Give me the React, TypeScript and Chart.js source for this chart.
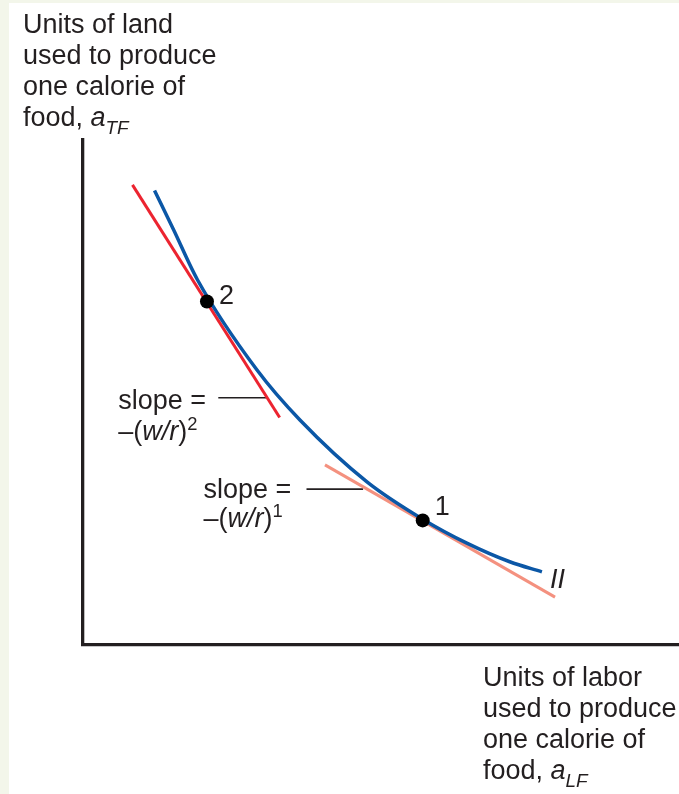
import React, { useEffect, useRef } from "react";
import { Chart, registerables } from "chart.js";

Chart.register(...registerables);

// Isoquant II (blue curve)
const curveX = [1.2, 1.52, 1.92, 2.92, 3.64, 4.77, 5.72, 6.44, 7.16, 7.7];
const curveY = [9.0, 8.22, 7.23, 5.44, 4.45, 3.22, 2.47, 2.01, 1.64, 1.44];

// Steep tangent (red) at point 2
const tangent2X = [0.83, 3.3];
const tangent2Y = [9.11, 4.5];

// Flatter tangent (salmon) at point 1
const tangent1X = [4.06, 7.92];
const tangent1Y = [3.56, 0.94];

// Labelled points 1 and 2
const pointLabels = ["1", "2"];
const pointX = [5.7, 2.08];
const pointY = [2.46, 6.8];

// Leader lines from the slope notes
const leader2X = [2.27, 3.08];
const leader2Y = [4.89, 4.89];
const leader1X = [3.75, 4.7];
const leader1Y = [3.08, 3.08];

const yTitle = ["Units of land", "used to produce", "one calorie of", "food, "];
const xTitle = ["Units of labor", "used to produce", "one calorie of", "food, "];

const FONT = "'Liberation Sans', Arial, Helvetica, sans-serif";
const INK = "#231f20";

type Seg = { t: string; italic?: boolean; scale?: number; dy?: number };

function drawRich(ctx: CanvasRenderingContext2D, x: number, y: number, segs: Seg[], size: number) {
  let cx = x;
  for (const s of segs) {
    const fs = size * (s.scale ?? 1);
    ctx.font = `${s.italic ? "italic " : ""}${fs}px ${FONT}`;
    ctx.fillText(s.t, cx, y + (s.dy ?? 0));
    cx += ctx.measureText(s.t).width;
  }
}

const bgPlugin = {
  id: "bg",
  beforeDraw(chart: any) {
    const ctx = chart.ctx as CanvasRenderingContext2D;
    ctx.save();
    ctx.fillStyle = "#f3f6ea";
    ctx.fillRect(0, 0, chart.width, chart.height);
    ctx.fillStyle = "#ffffff";
    ctx.fillRect(9, 3, chart.width - 9, chart.height - 3);
    ctx.restore();
  },
};

const textPlugin = {
  id: "texts",
  afterDraw(chart: any) {
    const ctx = chart.ctx as CanvasRenderingContext2D;
    const xs = chart.scales.x;
    const ys = chart.scales.y;
    const area = chart.chartArea;
    ctx.save();
    ctx.fillStyle = INK;
    ctx.textBaseline = "alphabetic";
    ctx.textAlign = "left";
    const size = 27;
    const lh = 31;

    // y axis title (above the axis)
    const yx = 23;
    const yb = area.top - 107;
    yTitle.forEach((line, i) => {
      const segs: Seg[] = [{ t: line }];
      if (i === yTitle.length - 1) {
        segs.push({ t: "a", italic: true });
        segs.push({ t: "TF", italic: true, scale: 0.7, dy: 8 });
      }
      drawRich(ctx, yx, yb + i * lh, segs, size);
    });

    // x axis title (below the axis, right side)
    const xx = 483;
    const xb = area.bottom + 41;
    xTitle.forEach((line, i) => {
      const segs: Seg[] = [{ t: line }];
      if (i === xTitle.length - 1) {
        segs.push({ t: "a", italic: true });
        segs.push({ t: "LF", italic: true, scale: 0.7, dy: 8 });
      }
      drawRich(ctx, xx, xb + i * lh, segs, size);
    });

    // point labels
    pointLabels.forEach((lab, i) => {
      const px = xs.getPixelForValue(pointX[i]);
      const py = ys.getPixelForValue(pointY[i]);
      drawRich(ctx, px + 12, py - 5 + (i === 1 ? 8 : 0), [{ t: lab }], size);
    });

    // curve label II
    const ex = xs.getPixelForValue(curveX[curveX.length - 1]);
    const ey = ys.getPixelForValue(curveY[curveY.length - 1]);
    drawRich(ctx, ex + 8, ey + 16, [{ t: "II", italic: true }], size);

    // slope notes
    const l2x = xs.getPixelForValue(leader2X[0]);
    const l2y = ys.getPixelForValue(leader2Y[0]);
    drawRich(ctx, l2x - 100, l2y + 11, [{ t: "slope =" }], size);
    drawRich(
      ctx,
      l2x - 100,
      l2y + 42,
      [{ t: "\u2013(" }, { t: "w/r", italic: true }, { t: ")" }, { t: "2", scale: 0.68, dy: -10 }],
      size
    );
    const l1x = xs.getPixelForValue(leader1X[0]);
    const l1y = ys.getPixelForValue(leader1Y[0]);
    drawRich(ctx, l1x - 103, l1y + 9, [{ t: "slope =" }], size);
    drawRich(
      ctx,
      l1x - 103,
      l1y + 38,
      [{ t: "\u2013(" }, { t: "w/r", italic: true }, { t: ")" }, { t: "1", scale: 0.68, dy: -10 }],
      size
    );
    ctx.restore();
  },
};

const toPts = (xs: number[], ys: number[]) => xs.map((x, i) => ({ x, y: ys[i] }));

export default function App() {
  const ref = useRef<HTMLCanvasElement | null>(null);
  useEffect(() => {
    if (!ref.current) return;
    document.body.style.margin = "0";
    const chart = new Chart(ref.current, {
      type: "scatter",
      data: {
        datasets: [
          {
            label: "points",
            data: toPts(pointX, pointY),
            showLine: false,
            pointRadius: 7,
            pointBackgroundColor: "#000000",
            pointBorderWidth: 0,
            order: 0,
          },
          {
            label: "II",
            data: toPts(curveX, curveY),
            showLine: true,
            borderColor: "#0b57a6",
            borderWidth: 3.5,
            pointRadius: 0,
            cubicInterpolationMode: "monotone",
            fill: false,
            order: 1,
          },
          {
            label: "tangent2",
            data: toPts(tangent2X, tangent2Y),
            showLine: true,
            borderColor: "#ec2430",
            borderWidth: 3,
            pointRadius: 0,
            order: 2,
          },
          {
            label: "tangent1",
            data: toPts(tangent1X, tangent1Y),
            showLine: true,
            borderColor: "#f4917f",
            borderWidth: 3,
            pointRadius: 0,
            order: 2,
          },
          {
            label: "leader2",
            data: toPts(leader2X, leader2Y),
            showLine: true,
            borderColor: INK,
            borderWidth: 1.6,
            pointRadius: 0,
            order: 3,
          },
          {
            label: "leader1",
            data: toPts(leader1X, leader1Y),
            showLine: true,
            borderColor: INK,
            borderWidth: 1.6,
            pointRadius: 0,
            order: 3,
          },
        ],
      },
      options: {
        responsive: false,
        devicePixelRatio: 1,
        animation: false,
        events: [],
        layout: { autoPadding: false, padding: { left: 83, top: 140, right: 0, bottom: 149.5 } },
        plugins: { legend: { display: false }, tooltip: { enabled: false } },
        scales: {
          x: {
            type: "linear",
            min: 0,
            max: 10,
            ticks: { display: false },
            grid: { display: false, drawTicks: false },
            border: { display: true, color: INK, width: 3.3 },
          },
          y: {
            type: "linear",
            min: 0,
            max: 10,
            ticks: { display: false },
            grid: { display: false, drawTicks: false },
            border: { display: true, color: INK, width: 3.3 },
          },
        },
      },
      plugins: [bgPlugin, textPlugin],
    });
    return () => chart.destroy();
  }, []);
  return (
    <canvas
      ref={ref}
      width={679}
      height={794}
      style={{ position: "absolute", left: 0, top: 0, width: 679, height: 794 }}
    />
  );
}
